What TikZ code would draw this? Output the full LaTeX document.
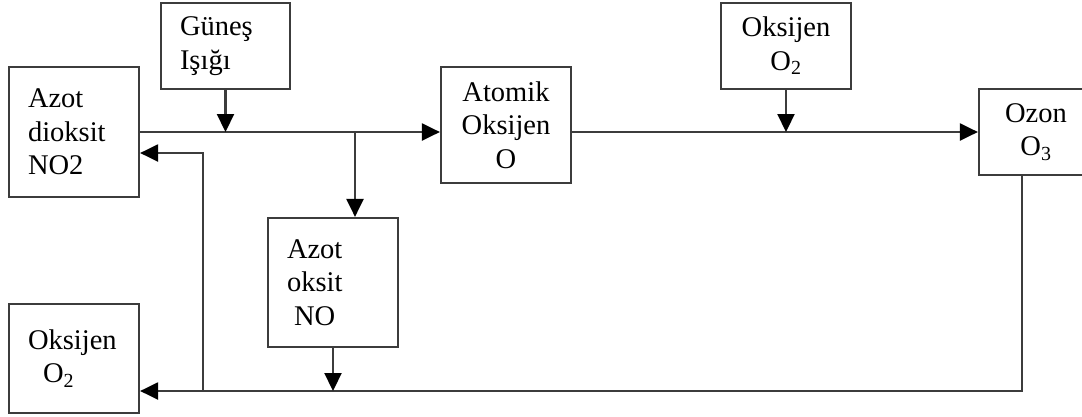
\documentclass[tikz,border=0pt]{standalone}
\usepackage{fontspec}
\setmainfont{Liberation Serif}
\usetikzlibrary{arrows.meta}
\definecolor{edge}{RGB}{60,60,60}

\begin{document}
\begin{tikzpicture}[x=1pt,y=-1pt,
  b/.style={draw=edge,line width=2.2pt,inner xsep=19pt,inner ysep=0pt,
            font=\fontsize{28.5}{33.5}\selectfont},
  bl/.style={b,align=left},
  bc/.style={b,align=center},
  a/.style={-{Triangle[length=18pt,width=17pt,color=black]},draw=edge,line width=2.2pt}]
  \useasboundingbox (0,0) rectangle (1082,416);
  \node[bl,text width=92pt,minimum height=130pt] (no2) at (74,132) {Azot\\dioksit\\NO2};
  \node[bl,text width=91pt,minimum height=86pt] (gun) at (225.5,46) {Güneş\\Işığı};
  \node[bc,text width=92pt,minimum height=116pt] (ato) at (506,125) {Atomik\\Oksijen\\O};
  \node[bc,text width=92pt,minimum height=86pt] (oks) at (786,46) {Oksijen\\O\textsubscript{2}};
  \node[bc,text width=76pt,minimum height=86pt] (ozo) at (1036,132) {Ozon\\O\textsubscript{3}};
  \node[bl,text width=92pt,minimum height=129pt] (no) at (333,282.5) {Azot\\oksit\\\hspace*{7pt}NO};
  \node[bl,text width=92pt,minimum height=109pt] (oks2) at (74,358.5) {Oksijen\\\hspace*{15pt}O\textsubscript{2}};
  \coordinate (spl) at (355,132);
  \coordinate (bot) at (1022,391);
  \coordinate (ret) at (203,391);
  \coordinate (rup) at (203,153);
  \draw[a] (no2.east) -- (no2.east -| ato.west);
  \draw[a] (gun.south) -- (gun.south |- no2.east);
  \draw[a] (spl) -- (spl |- no.north);
  \draw[a] (ozo.west -| ato.east) -- (ozo.west);
  \draw[a] (oks.south) -- (oks.south |- ozo.west);
  \draw[a] (bot |- ozo.south) -- (bot) -- (bot -| oks2.east);
  \draw[a] (no.south) -- (no.south |- bot);
  \draw[a] (ret) -- (rup) -- (rup -| no2.east);
\end{tikzpicture}
\end{document}
